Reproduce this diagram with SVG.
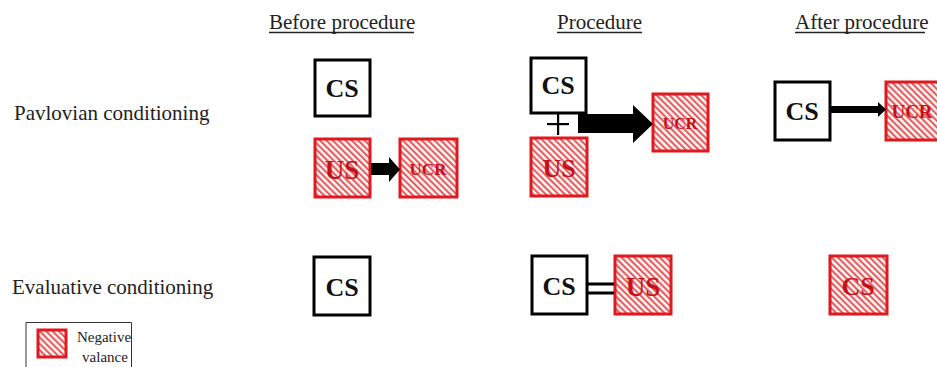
<svg xmlns="http://www.w3.org/2000/svg" width="937" height="367" viewBox="0 0 937 367">
  <style>
    .title { font-family: "Liberation Serif", "Times New Roman", serif; font-size: 21px; fill: #222; }
    .rowlabel { font-family: "Liberation Serif", "Times New Roman", serif; font-size: 21px; fill: #222; }
    .cs-box { fill: #fff; stroke: #000; stroke-width: 3; }
    .neg-box { fill: url(#hatch); stroke: #e0191f; stroke-width: 3; }
    .cs-text { font-family: "Liberation Serif", "Times New Roman", serif; font-weight: bold; fill: #111; text-anchor: middle; }
    .neg-text { font-family: "Liberation Serif", "Times New Roman", serif; font-weight: bold; fill: #c8101a; text-anchor: middle; }
    .legend-text { font-family: "Liberation Serif", "Times New Roman", serif; font-size: 15px; fill: #222; text-anchor: middle; }
    .rule { stroke: #222; stroke-width: 1.3; }
  </style>
  <defs>
    <pattern id="hatch" patternUnits="userSpaceOnUse" width="4.5" height="4.5" patternTransform="rotate(-45)">
      <rect width="4.5" height="4.5" fill="#fdf3f3"/>
      <rect width="2" height="4.5" fill="#e45b5e"/>
    </pattern>
  </defs>

  <rect width="937" height="367" fill="#fff"/>

  <!-- column headings -->
  <g id="headings">
    <text class="title" x="269" y="29">Before procedure</text>
    <line class="rule" x1="269" y1="32.5" x2="414" y2="32.5"/>
    <text class="title" x="557" y="29">Procedure</text>
    <line class="rule" x1="557" y1="32.5" x2="642" y2="32.5"/>
    <text class="title" x="795" y="29">After procedure</text>
    <line class="rule" x1="795" y1="32.5" x2="925" y2="32.5"/>
  </g>

  <!-- row labels -->
  <g id="row-labels">
    <text class="rowlabel" x="14" y="120">Pavlovian conditioning</text>
    <text class="rowlabel" x="12" y="294">Evaluative conditioning</text>
  </g>

  <!-- Pavlovian: before procedure -->
  <g id="pav-before-cs">
    <rect class="cs-box" x="315" y="60" width="55" height="56"/>
    <text class="cs-text" x="342" y="97" font-size="26">CS</text>
  </g>
  <g id="pav-before-us">
    <rect class="neg-box" x="315" y="139" width="55" height="58"/>
    <text class="neg-text" x="342" y="179" font-size="27">US</text>
  </g>
  <g id="pav-before-ucr">
    <rect class="neg-box" x="400" y="139" width="57" height="58"/>
    <text class="neg-text" x="428" y="175" font-size="17">UCR</text>
  </g>

  <!-- Pavlovian: procedure -->
  <g id="pav-proc-cs">
    <rect class="cs-box" x="531" y="58" width="55" height="55"/>
    <text class="cs-text" x="558" y="94" font-size="26">CS</text>
  </g>
  <g id="pav-proc-us">
    <rect class="neg-box" x="531" y="138" width="56" height="58"/>
    <text class="neg-text" x="559" y="177" font-size="26">US</text>
  </g>
  <g id="pav-proc-ucr">
    <rect class="neg-box" x="653" y="94" width="55" height="57"/>
    <text class="neg-text" x="680" y="129" font-size="16">UCR</text>
  </g>

  <!-- Pavlovian: after procedure -->
  <g id="pav-after-cs">
    <rect class="cs-box" x="775" y="82" width="55" height="58"/>
    <text class="cs-text" x="802" y="120" font-size="26">CS</text>
  </g>
  <g id="pav-after-ucr">
    <rect class="neg-box" x="886" y="82" width="56" height="58"/>
    <text class="neg-text" x="912" y="118" font-size="19">UCR</text>
  </g>

  <!-- Evaluative: before procedure -->
  <g id="eval-before-cs">
    <rect class="cs-box" x="314" y="257" width="56" height="58"/>
    <text class="cs-text" x="342" y="296" font-size="26">CS</text>
  </g>

  <!-- Evaluative: procedure -->
  <g id="eval-proc-cs">
    <rect class="cs-box" x="532" y="256" width="55" height="58"/>
    <text class="cs-text" x="559" y="295" font-size="26">CS</text>
  </g>
  <g id="eval-proc-us">
    <rect class="neg-box" x="615" y="256" width="56" height="58"/>
    <text class="neg-text" x="643" y="296" font-size="27">US</text>
  </g>

  <!-- Evaluative: after procedure -->
  <g id="eval-after-cs">
    <rect class="neg-box" x="830" y="256" width="57" height="58"/>
    <text class="neg-text" x="858" y="295" font-size="26">CS</text>
  </g>

  <!-- connectors -->
  <g id="connectors" fill="#000" stroke="none">
    <!-- US to UCR -->
    <polygon points="371,163 389,163 389,157 400,169.5 389,182 389,175 371,175"/>
    <!-- CS + US to UCR -->
    <polygon points="578,114 633,114 633,105 653,124 633,143 633,133 578,133"/>
    <!-- plus sign -->
    <rect x="557" y="113" width="2.2" height="22"/>
    <rect x="547" y="123" width="22" height="2.2"/>
    <!-- CS to UCR after -->
    <polygon points="831,106 878,106 878,102 886,109.5 878,117 878,113 831,113"/>
    <!-- equals sign -->
    <rect x="588" y="282.5" width="26" height="3"/>
    <rect x="588" y="291.5" width="26" height="3"/>
  </g>

  <!-- legend -->
  <g id="legend">
    <path d="M26,367 V322.5 H131.5 V367" fill="none" stroke="#333" stroke-width="1"/>
    <rect class="neg-box" x="38" y="330" width="28" height="27" stroke-width="2.5"/>
    <text class="legend-text" x="104" y="342">Negative</text>
    <text class="legend-text" x="105" y="362">valance</text>
  </g>
</svg>
